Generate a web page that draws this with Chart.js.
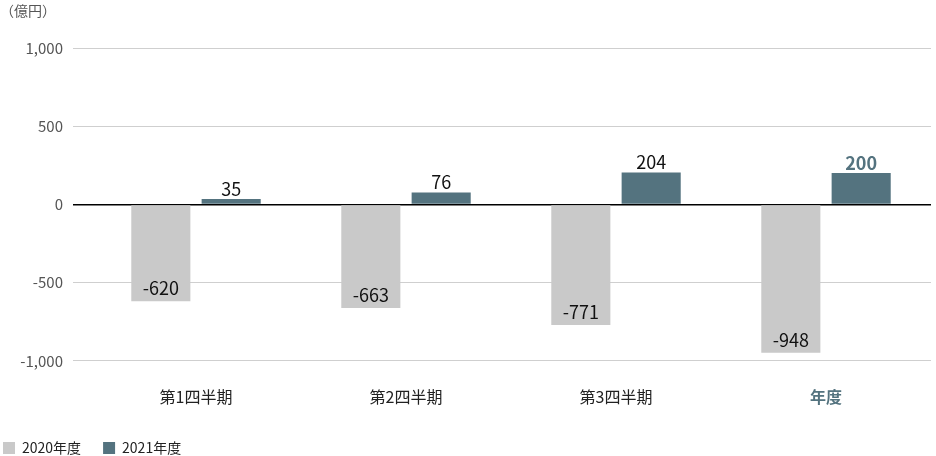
<!DOCTYPE html>
<html lang="ja">
<head>
<meta charset="utf-8">
<title>四半期別 比較</title>
<script src="https://cdn.jsdelivr.net/npm/chart.js@4/dist/chart.umd.min.js"></script>
<style>
    html, body { margin: 0; padding: 0; background: #fff; }
    #wrap { position: relative; width: 936px; height: 456px; }
</style>
</head>
<body>
<div id="wrap"><canvas id="grafico"></canvas></div>
<script>
// =========================
// DADOS
// =========================
const categorias = ['第1四半期', '第2四半期', '第3四半期', '年度'];
const serie2020 = [-620, -663, -771, -948];
const serie2021 = [35, 76, 204, 200];
const nomesSeries = ['2020年度', '2021年度'];
const ticksY = [-1000, -500, 0, 500, 1000];
const unidade = '（億円）';

const CINZA = '#c9c9c9';
const AZUL = '#54737f';
const FONTE = "'Noto Sans CJK JP', 'Noto Sans', sans-serif";
const PAD_LEGENDA = 22;

// rótulos de valor desenhados a partir das barras
const rotulos = {
    id: 'rotulos',
    afterLayout(chart) {
        // legenda encostada à esquerda e mais perto da base
        const lg = chart.legend;
        if (lg) {
            lg.left = 3 - PAD_LEGENDA;
            lg.top = chart.height - 15 - PAD_LEGENDA;
        }
    },
    afterDatasetsDraw(chart) {
        const ctx = chart.ctx;
        ctx.save();
        ctx.textAlign = 'center';
        ctx.textBaseline = 'bottom';
        chart.data.datasets.forEach((ds, i) => {
            chart.getDatasetMeta(i).data.forEach((bar, j) => {
                const v = ds.data[j];
                const destaque = j === categorias.length - 1 && v > 0;
                ctx.font = (destaque ? 'bold ' : '') + '18px ' + FONTE;
                ctx.fillStyle = destaque ? AZUL : '#111';
                // positivo: acima da barra; negativo: dentro, junto à base
                ctx.fillText(v, bar.x, v >= 0 ? bar.y - 1 : bar.y - 4);
            });
        });
        // unidade no topo
        ctx.font = '14px ' + FONTE;
        ctx.fillStyle = '#555';
        ctx.textAlign = 'left';
        ctx.textBaseline = 'middle';
        ctx.fillText(unidade, 0, 11);
        ctx.restore();
    }
};

new Chart(document.getElementById('grafico').getContext('2d'), {
    type: 'bar',
    data: {
        labels: categorias,
        datasets: [
            { label: nomesSeries[0], data: serie2020, backgroundColor: CINZA },
            { label: nomesSeries[1], data: serie2021, backgroundColor: AZUL }
        ]
    },
    options: {
        responsive: true,
        maintainAspectRatio: false,
        animation: false,
        categoryPercentage: 0.67,
        barPercentage: 0.84,
        layout: { padding: { top: 48, right: 5, left: 0, bottom: 0 } },
        plugins: {
            tooltip: { enabled: false },
            legend: {
                position: 'bottom',
                align: 'start',
                maxHeight: 30,
                labels: {
                    boxWidth: 12,
                    boxHeight: 12,
                    padding: PAD_LEGENDA,
                    color: '#222',
                    font: { family: FONTE, size: 14 }
                }
            }
        },
        scales: {
            x: {
                grid: { display: false },
                border: { display: false },
                ticks: {
                    padding: 19,
                    color: (c) => c.index === categorias.length - 1 ? AZUL : '#222',
                    font: (c) => ({ family: FONTE, size: 16, weight: c.index === categorias.length - 1 ? 'bold' : 'normal' })
                }
            },
            y: {
                min: -1000,
                max: 1000,
                afterFit: (s) => { s.width = 91; },
                afterBuildTicks: (s) => { s.ticks = ticksY.map(v => ({ value: v })); },
                border: { display: false },
                grid: {
                    color: (c) => c.tick && c.tick.value === 0 ? '#000' : '#cfcfcf',
                    lineWidth: (c) => c.tick && c.tick.value === 0 ? 1.5 : 1,
                    tickLength: 18,
                    tickColor: (c) => c.tick && c.tick.value === 0 ? '#000' : '#cfcfcf'
                },
                ticks: {
                    padding: 10,
                    color: '#555',
                    font: { family: FONTE, size: 15 },
                    callback: (v) => v.toLocaleString('en-US')
                }
            }
        }
    },
    plugins: [rotulos]
});
</script>
</body>
</html>
